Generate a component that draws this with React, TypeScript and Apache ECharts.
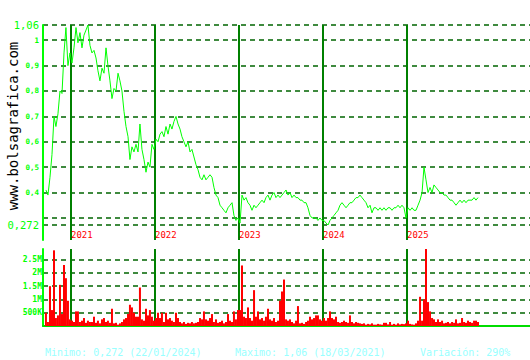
import React, { useEffect, useRef } from "react";
import * as echarts from "echarts";

// sample times (decimal years)
const F = [0.012, 0.036, 0.060, 0.083, 0.107, 0.131, 0.155, 0.179, 0.202, 0.226, 0.250, 0.274, 0.298, 0.321, 0.345, 0.369, 0.393, 0.417, 0.440, 0.464, 0.488, 0.512, 0.536, 0.560, 0.583, 0.607, 0.631, 0.655, 0.679, 0.702, 0.726, 0.750, 0.774, 0.798, 0.821, 0.845, 0.869, 0.893, 0.917, 0.940, 0.964, 0.988];
const times: number[] = [
  ...F.slice(29).map((f) => 2020 + f),
  ...F.map((f) => 2021 + f),
  ...F.map((f) => 2022 + f),
  ...F.map((f) => 2023 + f),
  ...F.map((f) => 2024 + f),
  ...F.slice(0, 36).map((f) => 2025 + f),
];

const price2020 = [0.41, 0.39, 0.46, 0.55, 0.70, 0.66, 0.71, 0.80, 0.79, 0.95, 1.05, 0.90, 0.95];
const price2021 = [0.91, 0.97, 1.05, 0.99, 1.03, 0.97, 1.02, 1.04, 1.06, 0.98, 0.95, 0.96, 0.93, 0.88, 0.84, 0.89, 0.87, 0.97, 0.90, 0.84, 0.77, 0.81, 0.80, 0.87, 0.84, 0.80, 0.72, 0.66, 0.62, 0.53, 0.58, 0.56, 0.59, 0.56, 0.67, 0.57, 0.53, 0.48, 0.52, 0.50, 0.59, 0.57];
const price2022 = [0.61, 0.60, 0.63, 0.64, 0.62, 0.66, 0.63, 0.67, 0.65, 0.68, 0.70, 0.67, 0.65, 0.62, 0.60, 0.58, 0.60, 0.56, 0.57, 0.54, 0.51, 0.49, 0.46, 0.45, 0.47, 0.45, 0.46, 0.47, 0.46, 0.42, 0.39, 0.38, 0.35, 0.34, 0.33, 0.32, 0.34, 0.35, 0.36, 0.31, 0.29, 0.30];
const price2023 = [0.28, 0.39, 0.37, 0.38, 0.36, 0.35, 0.33, 0.35, 0.34, 0.35, 0.36, 0.37, 0.36, 0.38, 0.39, 0.37, 0.39, 0.40, 0.38, 0.39, 0.38, 0.39, 0.40, 0.41, 0.39, 0.40, 0.38, 0.39, 0.38, 0.38, 0.37, 0.37, 0.36, 0.36, 0.34, 0.31, 0.30, 0.30, 0.30, 0.29, 0.30, 0.29];
const price2024 = [0.29, 0.28, 0.272, 0.29, 0.30, 0.31, 0.32, 0.33, 0.35, 0.36, 0.35, 0.34, 0.35, 0.36, 0.36, 0.37, 0.38, 0.38, 0.39, 0.38, 0.37, 0.36, 0.34, 0.35, 0.32, 0.34, 0.34, 0.33, 0.34, 0.33, 0.34, 0.33, 0.34, 0.34, 0.33, 0.34, 0.34, 0.35, 0.34, 0.35, 0.34, 0.30];
const price2025 = [0.34, 0.33, 0.34, 0.33, 0.33, 0.35, 0.37, 0.40, 0.50, 0.45, 0.40, 0.42, 0.40, 0.43, 0.42, 0.41, 0.40, 0.40, 0.39, 0.39, 0.38, 0.37, 0.37, 0.36, 0.35, 0.36, 0.37, 0.36, 0.37, 0.36, 0.37, 0.37, 0.37, 0.38, 0.37, 0.38];
const prices = [...price2020, ...price2021, ...price2022, ...price2023, ...price2024, ...price2025];

// volume in millions of shares
const vol2020 = [0.5, 0.15, 1.5, 0.6, 2.85, 0.3, 0.4, 1.55, 0.45, 2.3, 1.8, 0.95, 0.25];
const vol2021 = [0.2, 0.15, 0.55, 0.55, 0.15, 0.2, 0.3, 0.12, 0.2, 0.15, 0.15, 0.35, 0.12, 0.2, 0.1, 0.25, 0.3, 0.15, 0.2, 0.12, 0.65, 0.1, 0.12, 0.05, 0.1, 0.15, 0.25, 0.3, 0.45, 0.8, 0.7, 0.5, 0.35, 0.35, 1.45, 0.25, 0.2, 0.65, 0.4, 0.6, 0.35, 0.2];
const vol2022 = [0.3, 0.5, 0.3, 0.5, 0.15, 0.5, 0.25, 0.3, 0.2, 0.15, 0.5, 0.3, 0.15, 0.1, 0.15, 0.08, 0.12, 0.1, 0.15, 0.1, 0.12, 0.15, 0.3, 0.25, 0.55, 0.25, 0.2, 0.3, 0.45, 0.15, 0.25, 0.12, 0.15, 0.2, 0.1, 0.15, 0.45, 0.2, 0.15, 0.55, 0.25, 0.6];
const vol2023 = [0.6, 2.28, 0.35, 0.3, 0.7, 0.3, 0.2, 1.35, 0.35, 0.55, 0.25, 0.3, 0.2, 0.35, 0.65, 0.25, 0.2, 0.3, 0.15, 0.2, 0.95, 1.3, 1.75, 0.25, 0.2, 0.25, 0.15, 0.1, 0.2, 0.75, 0.1, 0.12, 0.08, 0.15, 0.2, 0.35, 0.25, 0.3, 0.4, 0.4, 0.25, 0.2];
const vol2024 = [0.3, 0.2, 0.3, 0.55, 0.3, 0.25, 0.35, 0.15, 0.12, 0.15, 0.2, 0.15, 0.12, 0.4, 0.15, 0.1, 0.15, 0.12, 0.1, 0.08, 0.1, 0.05, 0.08, 0.06, 0.1, 0.05, 0.05, 0.08, 0.06, 0.05, 0.12, 0.12, 0.06, 0.15, 0.05, 0.08, 0.05, 0.1, 0.06, 0.08, 0.07, 0.1];
const vol2025 = [0.2, 0.08, 0.06, 0.05, 0.1, 0.2, 1.1, 0.2, 1.0, 2.9, 0.9, 0.55, 0.3, 0.25, 0.15, 0.25, 0.15, 0.2, 0.1, 0.12, 0.15, 0.1, 0.15, 0.12, 0.25, 0.1, 0.12, 0.3, 0.15, 0.12, 0.2, 0.15, 0.12, 0.2, 0.2, 0.15];
const volumes = [...vol2020, ...vol2021, ...vol2022, ...vol2023, ...vol2024, ...vol2025];

const yearTicks = [2021, 2022, 2023, 2024, 2025];
const priceLabels = [0.272, 0.4, 0.5, 0.6, 0.7, 0.8, 0.9, 1, 1.06];
const priceGrid = [0.272, 0.3, 0.4, 0.5, 0.6, 0.7, 0.8, 0.9, 1, 1.06];
const volTicks = [0.5, 1, 1.5, 2, 2.5];

const footer = ["Minimo: 0,272 (22/01/2024)", "Maximo: 1,06 (18/03/2021)", "Variación: 290%"];
const watermark = "www.bolsagrafica.com";

const MONO = '"DejaVu Sans Mono", monospace';

export default function App() {
  const ref = useRef<HTMLDivElement>(null);
  useEffect(() => {
    if (!ref.current) return;
    const chart = echarts.init(ref.current, null, { renderer: "svg" });
    const gridLine = { show: true, lineStyle: { color: "#006400", width: 1.5, type: [5, 4] as any } };
    chart.setOption({
      animation: false,
      backgroundColor: "#ffffff",
      grid: [
        { left: 43, right: 0, top: 25, height: 215 },
        { left: 43, right: 0, top: 249, height: 77 },
      ],
      xAxis: [
        {
          type: "value", gridIndex: 0, min: 2020.667, max: 2026.464,
          axisLine: { show: false },
          axisTick: { show: false, customValues: yearTicks },
          axisLabel: {
            customValues: yearTicks, inside: true, margin: 1, align: "left",
            color: "#ff0000", fontSize: 9, fontFamily: MONO,
            formatter: (v: number) => String(Math.round(v)),
          },
          splitLine: { show: true, lineStyle: { color: "#008000", width: 2 } },
        },
        {
          type: "value", gridIndex: 1, min: 2020.667, max: 2026.464,
          axisLine: { show: true, lineStyle: { color: "#00dd00", width: 2 } },
          axisTick: { show: false, customValues: yearTicks },
          axisLabel: { show: false, customValues: yearTicks },
          splitLine: { show: true, lineStyle: { color: "#008000", width: 2 } },
        },
      ],
      yAxis: [
        {
          type: "value", gridIndex: 0, min: 0.213, max: 1.06,
          axisLine: { show: true, onZero: false, lineStyle: { color: "#00ff00", width: 2 } },
          axisTick: { show: false, customValues: priceGrid },
          axisLabel: {
            customValues: priceLabels, margin: 4,
            formatter: (v: number) => {
              const s = String(+v.toFixed(3)).replace(".", ",");
              return Math.abs(v - 0.272) < 1e-6 || Math.abs(v - 1.06) < 1e-6 ? `{b|${s}}` : `{s|${s}}`;
            },
            rich: {
              b: { fontSize: 10.5, color: "#00ff00", fontFamily: MONO },
              s: { fontSize: 7.5, color: "#00ff00", fontFamily: MONO, fontWeight: "bold" },
            },
          },
          splitLine: gridLine,
        },
        {
          type: "value", gridIndex: 1, min: 0, max: 2.9,
          axisLine: { show: true, onZero: false, lineStyle: { color: "#00ff00", width: 2 } },
          axisTick: { show: false, customValues: volTicks },
          axisLabel: {
            customValues: volTicks, margin: 1, color: "#00ff00", fontSize: 8, fontWeight: "bold", fontFamily: MONO,
            formatter: (v: number) => (v >= 1 ? `${v}M` : `${Math.round(v * 1000)}K`),
          },
          splitLine: gridLine,
        },
      ],
      series: [
        {
          type: "line", xAxisIndex: 0, yAxisIndex: 0, showSymbol: false,
          lineStyle: { color: "#00ff00", width: 1 },
          data: times.map((t, i) => [t, prices[i]]),
          z: 5,
        },
        {
          type: "bar", xAxisIndex: 1, yAxisIndex: 1, barWidth: 2,
          itemStyle: { color: "#ff0000" },
          data: times.map((t, i) => [t, volumes[i]]),
          z: 5,
        },
      ],
      graphic: [
        {
          type: "text", x: 12.5, y: 126, rotation: Math.PI / 2,
          style: { text: watermark, fill: "#000000", fontSize: 14, fontFamily: MONO, align: "center", verticalAlign: "middle" },
        },
        { type: "text", x: 45, y: 352, style: { text: footer[0], fill: "#99ffff", fontSize: 10, fontFamily: MONO, verticalAlign: "middle" } },
        { type: "text", x: 235, y: 352, style: { text: footer[1], fill: "#99ffff", fontSize: 10, fontFamily: MONO, verticalAlign: "middle" } },
        { type: "text", x: 420, y: 352, style: { text: footer[2], fill: "#99ffff", fontSize: 10, fontFamily: MONO, verticalAlign: "middle" } },
      ],
    });
    return () => chart.dispose();
  }, []);
  return <div ref={ref} style={{ position: "fixed", left: 0, top: 0, width: 530, height: 360 }} />;
}
